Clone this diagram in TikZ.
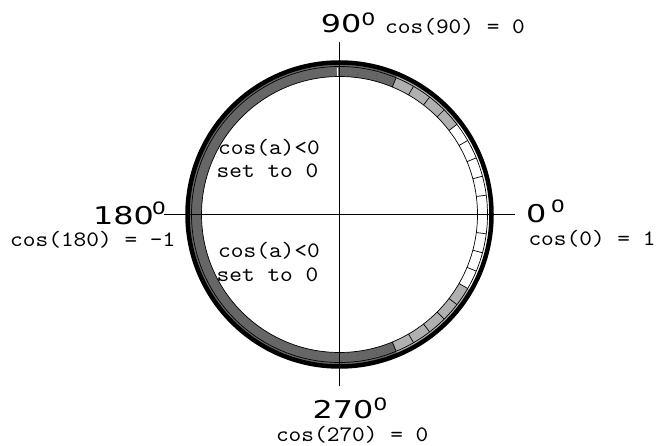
\documentclass[tikz,border=0pt]{standalone}
\usepackage{fontspec}
\newfontfamily\degfont[FakeStretch=1.3]{DejaVu Sans}
\newfontfamily\ofont{Liberation Sans}
\newfontfamily\monofont[FakeStretch=1.1]{lmmono10-regular.otf}
\definecolor{darkband}{gray}{0.40}
\definecolor{lightband}{gray}{0.69}
\newcommand{\degO}[1]{\raisebox{#1}{\ofont\fontsize{23.5}{23.5}\selectfont o}}
\begin{document}
\begin{tikzpicture}[x=1pt,y=1pt,
  deg/.style={font=\degfont\fontsize{24.5}{24.5}\selectfont, inner sep=0pt, anchor=base west},
  mono/.style={font=\monofont\fontsize{22}{22}\selectfont, inner sep=0pt, anchor=base west},
  axisline/.style={line width=1.9pt},
  solidtick/.style={line width=0.7pt},
  darktick/.style={line width=0.6pt, black!75, dash pattern=on 1.2pt off 1.2pt},
  ]
\useasboundingbox (0,0) rectangle (660,446);
\coordinate (C) at (339.5,231.5);
\begin{scope}[shift={(C)}]
  % left half: cos(a)<0, set to 0
  \fill[darkband] (90:138) arc[start angle=90, end angle=270, radius=138]
     -- (270:151) arc[start angle=270, end angle=90, radius=151] -- cycle;
  % right half segments
  \foreach \a/\col in {0/white,7.5/white,15/white,22.5/white,30/white,
      37.5/lightband,45/lightband,52.5/lightband,60/lightband,
      67.5/darkband,75/darkband,82.5/darkband,
      -7.5/white,-15/white,-22.5/white,-30/white,
      -37.5/lightband,-45/lightband,-52.5/lightband,-60/lightband,-67.5/lightband,
      -75/darkband,-82.5/darkband,-90/darkband}
  {
    \fill[\col] (\a:138) arc[start angle=\a, end angle=\a+7.5, radius=138]
      -- ({\a+7.5}:151) arc[start angle=\a+7.5, end angle=\a, radius=151] -- cycle;
  }
  \foreach \a in {7.5,15,...,67.5,-7.5,-15,...,-67.5}
    \draw[solidtick] (\a:138) -- (\a:148);
  \foreach \a in {75,82.5,-75,-82.5}
    \draw[darktick] (\a:138) -- (\a:148);
  \draw[white, line width=1pt] (90.8:138.5) -- (90.8:147);
\end{scope}
\draw[line width=0.7pt] (C) circle[radius=138];
\draw[line width=0.7pt] (C) circle[radius=148];
\draw[line width=4.5pt] (C) circle[radius=152];
% axes
\coordinate (hl) at (164,231.5);
\coordinate (hr) at (515,231.5);
\coordinate (vt) at (339.5,404);
\coordinate (vb) at (339.5,60);
\draw[axisline] (hl) -- (hr);
\draw[axisline] (vt) -- (vb);
% angle labels
\node[deg] (l90)  at (320.6,413) {90\kern0.5pt\degO{7.5pt}};
\node[deg] (l180) at (93,221)    {180\kern-1.5pt\degO{10pt}};
\node[deg] (l0)   at (525.9,223) {0\kern5pt\degO{10pt}};
\node[deg] (l270) at (312.3,27.7) {270\kern0.5pt\degO{8pt}};
% cosine labels
\node[mono] (c90)  at (385,412.7)  {cos(90) = 0};
\node[mono] (c180) at (10,199.3)   {cos(180) = -1};
\node[mono] (c0)   at (528.3,200.5) {cos(0) = 1};
\node[mono] (c270) at (275.8,4.5)  {cos(270) = 0};
% inner notes
\node[mono] (ua) at (218,291)   {cos(a)<0};
\node[mono] (ub) at (216.5,268) {set to 0};
\node[mono] (la) at (218,188)   {cos(a)<0};
\node[mono] (lb) at (216.5,164.3) {set to 0};
\end{tikzpicture}
\end{document}
